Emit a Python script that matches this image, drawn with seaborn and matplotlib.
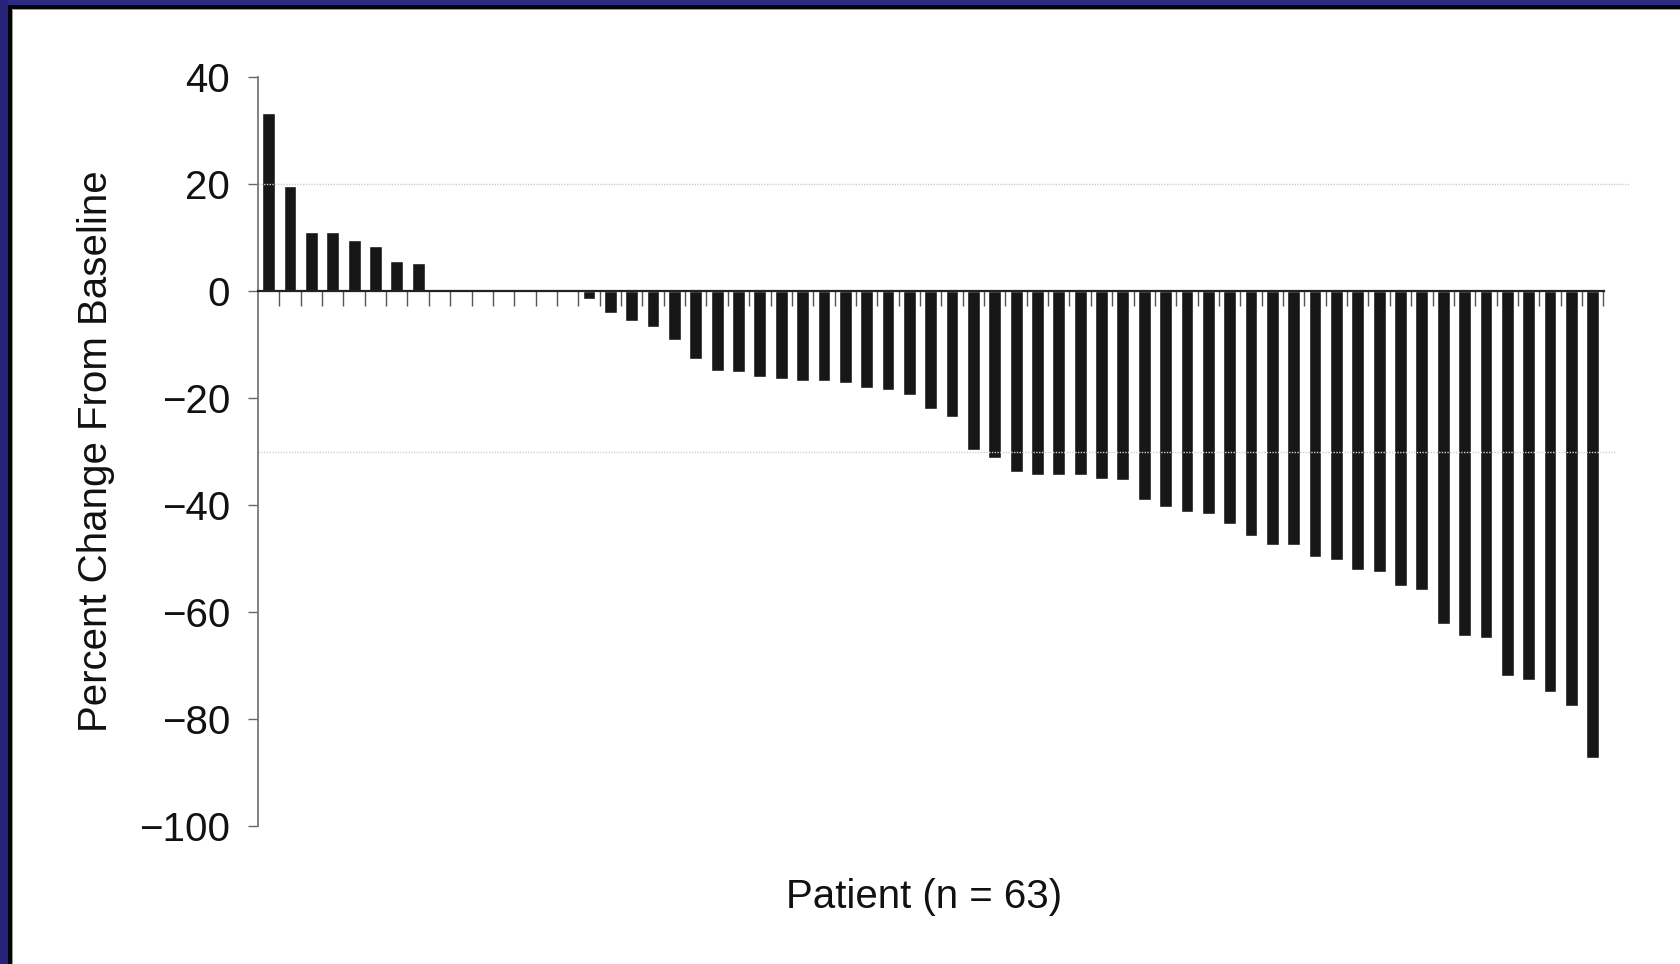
import matplotlib
matplotlib.use("Agg")
import matplotlib.pyplot as plt
from matplotlib.patches import Rectangle
import pandas as pd
import seaborn as sns

# ── Data: best percent change from baseline, one bar per patient (sorted) ────
patients = list(range(1, 64))
pct_change = [33.3, 19.6, 11.0, 11.0, 9.5, 8.5, 5.6, 5.3,
              0, 0, 0, 0, 0, 0, 0,
              -1.5, -4.2, -5.6, -6.8, -9.1, -12.8, -14.9, -15.2, -16.0,
              -16.5, -16.9, -16.9, -17.2, -18.1, -18.5, -19.4, -22.0, -23.5,
              -29.7, -31.3, -33.8, -34.4, -34.4, -34.4, -35.1, -35.4, -39.0,
              -40.3, -41.3, -41.6, -43.5, -45.8, -47.5, -47.5, -49.7, -50.3,
              -52.2, -52.6, -55.2, -55.9, -62.2, -64.4, -64.8, -72.0, -72.7,
              -75.0, -77.6, -87.2]
ref_lines = [20, -30]
y_ticks = [40, 20, 0, -20, -40, -60, -80, -100]

df = pd.DataFrame({"Patient": patients, "Change": pct_change})

sns.set_style("white")
plt.rcParams["font.family"] = ["Liberation Sans", "DejaVu Sans"]
plt.rcParams["axes.unicode_minus"] = True

W, H = 1680, 964
fig = plt.figure(figsize=(W / 100, H / 100), dpi=100)
ax = fig.add_axes([258 / W, 1 - 826 / H, 1371 / W, 749 / H])

sns.barplot(data=df, x="Patient", y="Change", color="#171717",
            saturation=1, width=0.6, ax=ax)

# light dotted response thresholds
ax.hlines(ref_lines[0], -0.5, 63.7, color="#cfcfcf", lw=1.0, ls=(0, (1, 1)))
ax.hlines(ref_lines[1], -0.5, 63.1, color="#cfcfcf", lw=1.0, ls=(0, (1, 1)))

ax.set_xlim(-0.5, 63.7)
ax.set_ylim(-100, 40)
ax.set_yticks(y_ticks)
ax.set_yticklabels([f"{t}".replace("-", "\u2212") for t in y_ticks])

# x axis sits on the zero line, ticks fall between the bars
ax.spines["bottom"].set_position(("data", 0))
ax.spines["bottom"].set_bounds(-0.5, 62.55)
ax.spines["bottom"].set_color("#222222")
ax.spines["bottom"].set_linewidth(1.6)
ax.spines["left"].set_color("#777777")
ax.spines["left"].set_linewidth(1.3)
ax.spines["top"].set_visible(False)
ax.spines["right"].set_visible(False)
ax.set_xticks([i + 0.5 for i in range(len(patients))])
ax.set_xticklabels([])
ax.tick_params(axis="x", direction="out", length=11, width=1.0,
               color="#555555", bottom=True)
ax.tick_params(axis="y", direction="out", length=7, width=1.0,
               color="#666666", left=True, labelsize=29, pad=13,
               labelcolor="#111111")

ax.set_xlabel("Patient (n = 63)", fontsize=29, color="#111111")
ax.set_ylabel("Percent Change From Baseline", fontsize=29, color="#111111")
ax.xaxis.set_label_coords(0.486, -0.07)
ax.yaxis.set_label_coords(-0.104, 0.5)

# dark slide frame along top and left edges
frame = [
    (0, 1 - 5 / H, 1, 5 / H, "#2d2a84"),
    (0, 1 - 9 / H, 1, 4 / H, "#050505"),
    (0, 1 - 10 / H, 1, 1 / H, "#9a9a9a"),
    (0, 0, 8 / W, 1, "#27237a"),
    (8 / W, 0, 4 / W, 1 - 5 / H, "#050505"),
    (12 / W, 0, 1 / W, 1 - 10 / H, "#9a9a9a"),
]
for x0, y0, w, h, c in frame:
    fig.add_artist(Rectangle((x0, y0), w, h, transform=fig.transFigure,
                             facecolor=c, edgecolor="none", zorder=10))

fig.savefig("out.png", dpi=100)
plt.close(fig)
